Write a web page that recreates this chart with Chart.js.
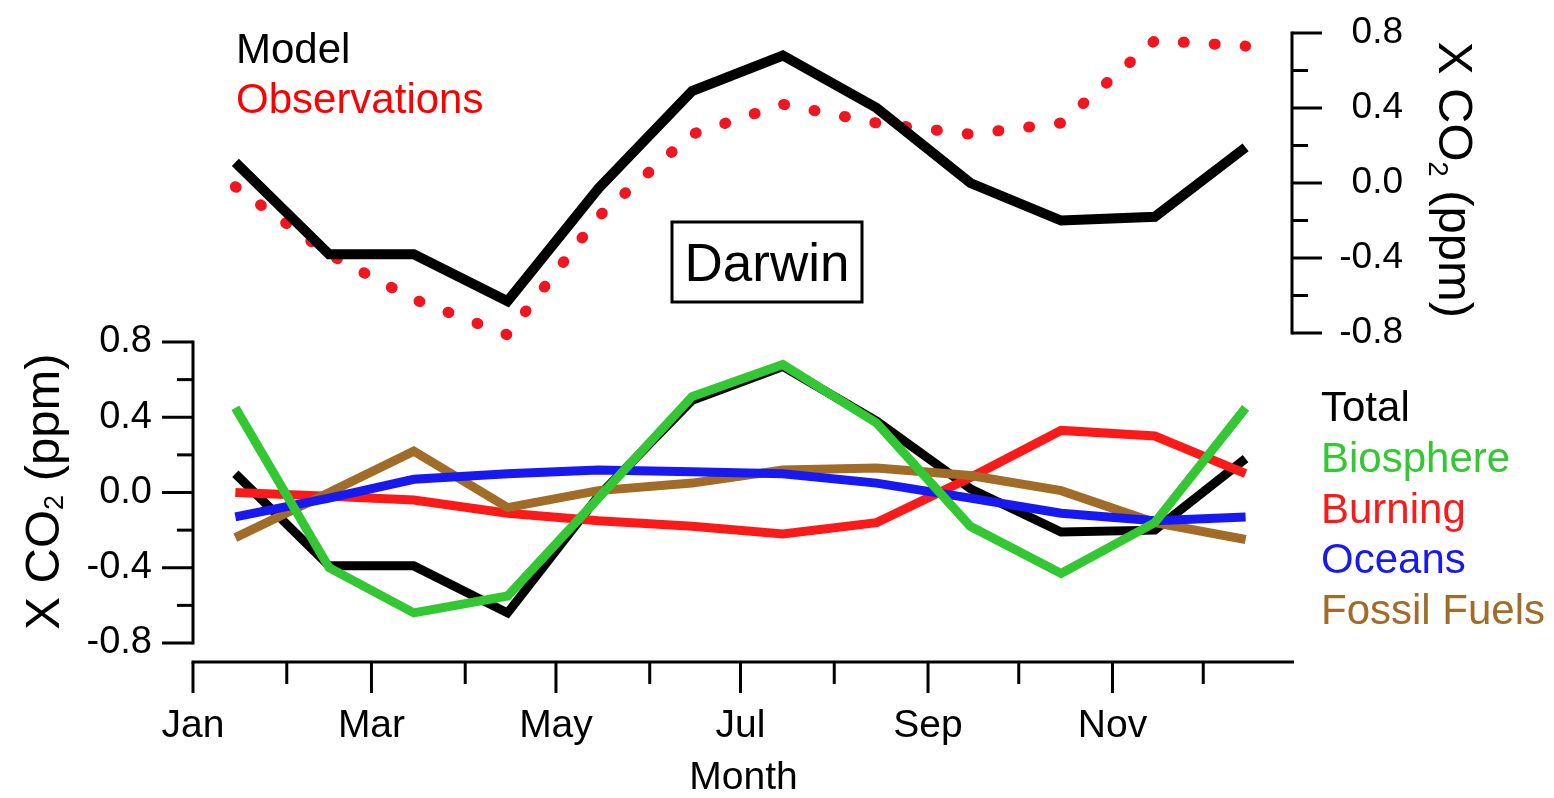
<!DOCTYPE html>
<html>
<head>
<meta charset="utf-8">
<title>Darwin XCO2 seasonal cycle</title>
<script src="https://cdn.jsdelivr.net/npm/chart.js@4.4.1/dist/chart.umd.min.js"></script>
<style>
  html, body { margin: 0; padding: 0; background: #ffffff; }
  canvas { display: block; }
</style>
</head>
<body>
<canvas id="darwin" width="1554" height="798"></canvas>
<script>
// ---- data -------------------------------------------------------------
const months = ['Jan', 'Feb', 'Mar', 'Apr', 'May', 'Jun', 'Jul', 'Aug', 'Sep', 'Oct', 'Nov', 'Dec'];
const monthDays = [31, 28, 31, 30, 31, 30, 31, 31, 30, 31, 30, 31];
const monthTickLabels = ['Jan', '', 'Mar', '', 'May', '', 'Jul', '', 'Sep', '', 'Nov', ''];
const valueTicks = [-0.8, -0.6, -0.4, -0.2, 0.0, 0.2, 0.4, 0.6, 0.8];

// upper panel: XCO2 anomaly (ppm)
const model        = [0.11, -0.38, -0.38, -0.63, -0.03, 0.49, 0.68, 0.40, 0.00, -0.20, -0.18, 0.19];
const observations = [-0.02, -0.38, -0.62, -0.81, -0.18, 0.26, 0.42, 0.32, 0.26, 0.32, 0.76, 0.73];

// lower panel: contributions by source (ppm)
const total       = [0.10, -0.39, -0.39, -0.64, -0.02, 0.49, 0.67, 0.38, 0.02, -0.21, -0.20, 0.18];
const biosphere   = [0.45, -0.40, -0.64, -0.55, -0.03, 0.51, 0.68, 0.37, -0.18, -0.43, -0.16, 0.45];
const burning     = [0.00, -0.02, -0.04, -0.11, -0.15, -0.18, -0.22, -0.16, 0.08, 0.33, 0.30, 0.10];
const oceans      = [-0.13, -0.03, 0.07, 0.10, 0.12, 0.11, 0.10, 0.05, -0.03, -0.11, -0.15, -0.13];
const fossilFuels = [-0.24, 0.00, 0.22, -0.08, 0.01, 0.05, 0.12, 0.13, 0.09, 0.01, -0.16, -0.25];

// ---- calendar positions (day of year, Jan 1 = 0) --------------------------
const monthStart = monthDays.map((d, i) => monthDays.slice(0, i).reduce((a, b) => a + b, 0));
const midMonth = monthStart.map(s => s + 14);            // the 15th of each month
const points = vals => vals.map((v, i) => ({ x: midMonth[i], y: v }));

// ---- layout -----------------------------------------------------------
const W = 1554, H = 798;
const AREA = { left: 193, right: 1294, top: 33, bottom: 662 };
const RIGHT_LABEL_EDGE = 1403;
const UPPER_ROWS = { hi: 33, lo: 333 };   // pixel rows of +0.8 / -0.8 on the right axis
const LOWER_ROWS = { hi: 342, lo: 643 };  // pixel rows of +0.8 / -0.8 on the left axis

function axisRange(rows) {
  const perUnit = (rows.lo - rows.hi) / 1.6;
  return {
    max: 0.8 + (rows.hi - AREA.top) / perUnit,
    min: -0.8 - (AREA.bottom - rows.lo) / perUnit
  };
}
const lowerRange = axisRange(LOWER_ROWS);
const upperRange = axisRange(UPPER_ROWS);

const SANS = '"Liberation Sans", Arial, Helvetica, sans-serif';
const isMajor = v => Math.abs(Math.round(v / 0.2)) % 2 === 0;

const COLORS = {
  total: '#000000',
  biosphere: '#33c833',
  burning: '#fb1a1a',
  oceans: '#1818f0',
  fossil: '#a06c28',
  observations: '#f2141e'
};

// keeps every axis box at a fixed size with no extra label overhang
function fixBox(size) {
  return s => {
    if (s.isHorizontal()) s.height = size; else s.width = size;
    s.paddingTop = 0; s.paddingBottom = 0; s.paddingLeft = 0; s.paddingRight = 0;
  };
}

// ---- axis frame, titles, legends and station label ---------------------
const framePlugin = {
  id: 'frame',
  afterDraw(chart) {
    const { ctx, chartArea: a, scales } = chart;
    const x = scales.x, y = scales.y, y2 = scales.y2;
    ctx.save();
    ctx.strokeStyle = '#000';
    ctx.lineWidth = 3;
    ctx.lineCap = 'butt';
    const seg = (x1, y1, x2, y2_) => { ctx.beginPath(); ctx.moveTo(x1, y1); ctx.lineTo(x2, y2_); ctx.stroke(); };

    // month axis
    seg(a.left - 1.5, a.bottom, a.right, a.bottom);
    x.ticks.forEach((t, i) => {
      const px = x.getPixelForValue(t.value);
      seg(px, a.bottom, px, a.bottom + (i % 2 === 0 ? 31 : 22));
    });

    // left value axis (source contributions)
    const lx = a.left;
    seg(lx, y.getPixelForValue(0.8) - 1.5, lx, y.getPixelForValue(-0.8) + 1.5);
    y.ticks.forEach(t => {
      const py = y.getPixelForValue(t.value);
      seg(lx - (isMajor(t.value) ? 31 : 16), py, lx, py);
    });

    // right value axis (model vs observations)
    const rx = a.right - 2;
    seg(rx, y2.getPixelForValue(0.8) - 1.5, rx, y2.getPixelForValue(-0.8) + 1.5);
    y2.ticks.forEach(t => {
      const py = y2.getPixelForValue(t.value);
      seg(rx, py, rx + (isMajor(t.value) ? 30 : 16), py);
    });

    // axis titles with subscript
    const axisTitle = (bx, cy, angle, size, subDrop) => {
      ctx.save();
      ctx.translate(bx, cy);
      ctx.rotate(angle);
      ctx.fillStyle = '#000';
      ctx.textBaseline = 'alphabetic';
      ctx.textAlign = 'left';
      const big = size + 'px ' + SANS;
      const small = Math.round(size * 0.55) + 'px ' + SANS;
      const parts = [['X CO', big, 0], ['2', small, subDrop], [' (ppm)', big, 0]];
      let width = 0;
      parts.forEach(p => { ctx.font = p[1]; width += ctx.measureText(p[0]).width; });
      let cx = -width / 2;
      parts.forEach(p => { ctx.font = p[1]; ctx.fillText(p[0], cx, p[2]); cx += ctx.measureText(p[0]).width; });
      ctx.restore();
    };
    const lowerMid = (y.getPixelForValue(0.8) + y.getPixelForValue(-0.8)) / 2;
    const upperMid = (y2.getPixelForValue(0.8) + y2.getPixelForValue(-0.8)) / 2;
    axisTitle(59, lowerMid - 1, -Math.PI / 2, 49, 4);
    axisTitle(1439, upperMid - 3, Math.PI / 2, 49, 10);

    // series names
    ctx.textAlign = 'left';
    ctx.textBaseline = 'alphabetic';
    ctx.font = '42px ' + SANS;
    const ds = chart.data.datasets;
    const byLabel = l => ds.find(d => d.label === l);
    ['Model', 'Observations'].forEach((name, i) => {
      ctx.fillStyle = byLabel(name).legendColor;
      ctx.fillText(name, 236, 63 + i * 50);
    });
    ['Total', 'Biosphere', 'Burning', 'Oceans', 'Fossil Fuels'].forEach((name, i) => {
      ctx.fillStyle = byLabel(name).legendColor;
      ctx.fillText(name, 1321, 421 + i * 50.8);
    });

    // station label
    ctx.lineWidth = 3;
    ctx.strokeRect(672, 222, 190, 80);
    ctx.fillStyle = '#000';
    ctx.font = '53px ' + SANS;
    ctx.textAlign = 'center';
    ctx.textBaseline = 'alphabetic';
    ctx.fillText('Darwin', 767, 281);
    ctx.restore();
  }
};

// ---- chart --------------------------------------------------------------
const lowerLine = (label, vals, color, order) => ({
  label, data: points(vals), yAxisID: 'y', borderColor: color, legendColor: color,
  borderWidth: 9, order
});

new Chart(document.getElementById('darwin'), {
  type: 'line',
  data: {
    datasets: [
      { label: 'Model', data: points(model), yAxisID: 'y2', borderColor: COLORS.total,
        legendColor: '#000000', borderWidth: 10, order: 0 },
      { label: 'Observations', data: points(observations), yAxisID: 'y2', borderColor: COLORS.observations,
        legendColor: '#ff0000', borderWidth: 11, borderDash: [1, 30], borderCapStyle: 'round', order: 1 },
      lowerLine('Total', total, COLORS.total, 6),
      lowerLine('Biosphere', biosphere, COLORS.biosphere, 2),
      lowerLine('Burning', burning, COLORS.burning, 5),
      lowerLine('Oceans', oceans, COLORS.oceans, 3),
      lowerLine('Fossil Fuels', fossilFuels, COLORS.fossil, 4)
    ]
  },
  options: {
    responsive: false,
    animation: false,
    devicePixelRatio: 1,
    layout: { padding: { top: AREA.top, right: W - RIGHT_LABEL_EDGE, bottom: 0, left: 0 } },
    plugins: { legend: { display: false }, tooltip: { enabled: false } },
    elements: {
      point: { radius: 0, hoverRadius: 0 },
      line: { tension: 0, fill: false, borderJoinStyle: 'miter' }
    },
    scales: {
      x: {
        type: 'linear', position: 'bottom', min: 0, max: 364,
        grid: { display: false, drawTicks: false, tickLength: 0 },
        border: { display: false },
        afterBuildTicks: s => { s.ticks = monthStart.map(v => ({ value: v })); },
        ticks: {
          autoSkip: false, maxRotation: 0, minRotation: 0, padding: 41, color: '#000',
          font: { family: SANS, size: 39 },
          callback: (v, i) => monthTickLabels[i]
        },
        title: { display: true, text: 'Month', color: '#000', padding: 0,
                 font: { family: SANS, size: 39, lineHeight: 1 } },
        afterFit: fixBox(H - AREA.bottom)
      },
      y: {
        type: 'linear', position: 'left', min: lowerRange.min, max: lowerRange.max,
        grid: { display: false, drawTicks: false, tickLength: 0 },
        border: { display: false },
        afterBuildTicks: s => { s.ticks = valueTicks.map(v => ({ value: v })); },
        ticks: {
          autoSkip: false, padding: 41, color: '#000', crossAlign: 'near',
          font: { family: SANS, size: 38 },
          callback: v => (isMajor(v) ? v.toFixed(1) : '')
        },
        afterFit: fixBox(AREA.left)
      },
      y2: {
        type: 'linear', position: 'right', min: upperRange.min, max: upperRange.max,
        grid: { display: false, drawTicks: false, tickLength: 0 },
        border: { display: false },
        afterBuildTicks: s => { s.ticks = valueTicks.map(v => ({ value: v })); },
        ticks: {
          autoSkip: false, padding: 0, color: '#000', crossAlign: 'far',
          font: { family: SANS, size: 37 },
          callback: v => (isMajor(v) ? v.toFixed(1) : '')
        },
        afterFit: fixBox(RIGHT_LABEL_EDGE - AREA.right)
      }
    }
  },
  plugins: [framePlugin]
});
</script>
</body>
</html>
